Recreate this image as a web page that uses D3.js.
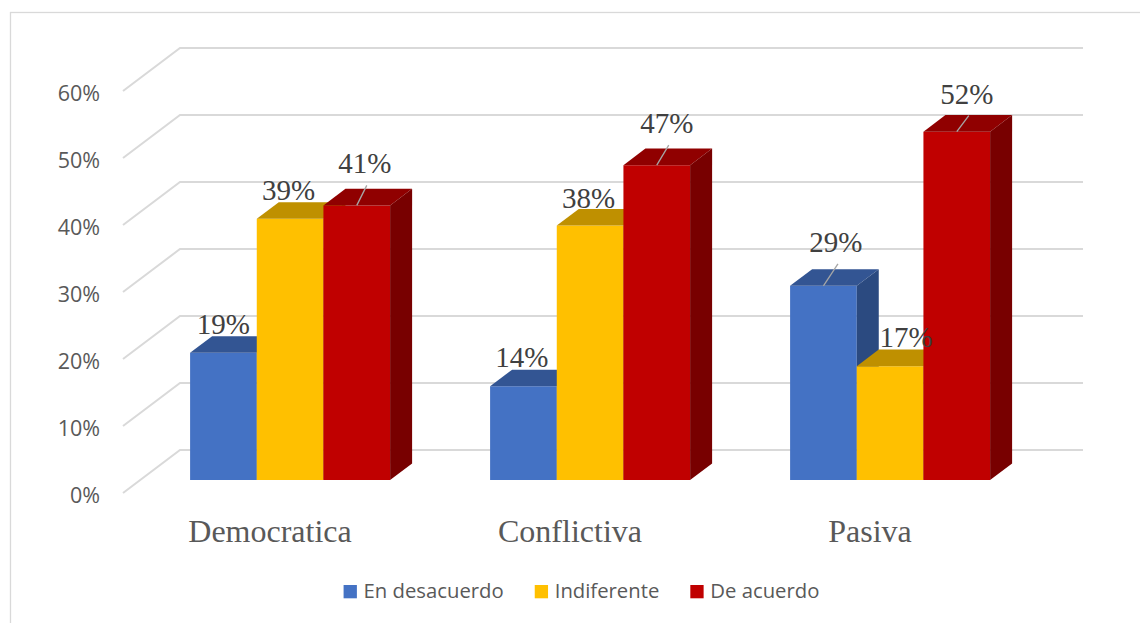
<!DOCTYPE html>
<html>
<head>
<meta charset="utf-8">
<script src="https://cdn.jsdelivr.net/npm/d3@7"></script>
<style>
  body { margin: 0; background: #fff; }
  svg { display: block; }
</style>
</head>
<body>
<script>
// data
const categories = ["Democratica", "Conflictiva", "Pasiva"];
const seriesNames = ["En desacuerdo", "Indiferente", "De acuerdo"];
const enDesacuerdo = [0.19, 0.14, 0.29];
const indiferente = [0.39, 0.38, 0.17];
const deAcuerdo = [0.41, 0.47, 0.52];
const yTicks = [0, 0.1, 0.2, 0.3, 0.4, 0.5, 0.6];

const seriesValues = [enDesacuerdo, indiferente, deAcuerdo];

// styles
const colors = [
    { front: "#4472C4", top: "#335593", side: "#2B4A80" },
    { front: "#FFC000", top: "#BF9000", side: "#A67C00" },
    { front: "#C00000", top: "#900000", side: "#780000" }
];

// data label nudges: [dx, rise above bar top, leader line], by [category][series]
const labelNudge = [
    [[0, 19, false], [-1.5, 19, false], [8, 32, true]],
    [[-1.5, 19, false], [-1.5, 18, false], [10, 32, true]],
    [[12.5, 34, true], [16, 19, false], [10, 28, true]]
];

const W = 1140, H = 623;
const x0 = 123, plotW = 900;
const depth = { dx: 57, dy: -43 };   // full floor depth in screen px
const d0 = 0.3, d1 = 0.686;          // bar front/back as fraction of depth

const y = d3.scaleLinear().domain([0, 0.6]).range([493, 91]);
const xCat = d3.scaleBand().domain(categories).range([x0, x0 + plotW])
    .paddingInner(1 / 3).paddingOuter(1 / 6);
const xSer = d3.scaleBand().domain(d3.range(seriesNames.length)).range([0, xCat.bandwidth()]);

function proj(px, py, d) {
    return [px + d * depth.dx, py + d * depth.dy];
}
function poly(pts) {
    return "M" + pts.map(p => p.join(",")).join("L") + "Z";
}

const svg = d3.select("body").append("svg")
    .attr("width", W)
    .attr("height", H);

svg.append("rect")
    .attr("width", W).attr("height", H)
    .attr("fill", "#fff");

// chart border
svg.append("rect")
    .attr("x", 10.5).attr("y", 12.5)
    .attr("width", W).attr("height", H)
    .attr("fill", "none")
    .attr("stroke", "#d9d9d9")
    .attr("stroke-width", 1.3);

// gridlines: side wall diagonal + back wall
const grid = svg.append("g");
yTicks.forEach(function (t) {
    const a = [x0, y(t)];
    const b = proj(x0, y(t), 1);
    const c = proj(x0 + plotW + 3, y(t), 1);
    grid.append("path")
        .attr("d", "M" + a + "L" + b + "L" + c)
        .attr("fill", "none")
        .attr("stroke", "#d9d9d9")
        .attr("stroke-width", 2);
});

// y axis labels
const yAxis = d3.axisLeft(y).tickValues(yTicks).tickFormat(d3.format(".0%"))
    .tickSize(0).tickPadding(23);
const yg = svg.append("g")
    .attr("transform", "translate(" + x0 + ",0)")
    .call(yAxis);
yg.select(".domain").remove();
yg.selectAll("text")
    .attr("dy", "0.42em")
    .style("font-family", "'Open Sans', sans-serif")
    .style("font-size", "21.5px")
    .attr("fill", "#595959");

// category labels
const xAxis = d3.axisBottom(xCat).tickSize(0).tickPadding(26);
const xg = svg.append("g")
    .attr("transform", "translate(-3," + y(0) + ")")
    .call(xAxis);
xg.select(".domain").remove();
xg.selectAll("text")
    .style("font-family", "'Liberation Serif', 'Times New Roman', serif")
    .style("font-size", "32px")
    .attr("fill", "#595959");

// bars
const bars = svg.append("g");
const labels = [];
categories.forEach(function (cat, i) {
    seriesValues.forEach(function (vals, j) {
        const v = vals[i];
        const xl = xCat(cat) + xSer(j), xr = xl + xSer.bandwidth();
        const yb = y(0), yt = y(v);
        const col = colors[j];
        bars.append("path")
            .attr("d", poly([proj(xl, yt, d0), proj(xr, yt, d0), proj(xr, yb, d0), proj(xl, yb, d0)]))
            .attr("fill", col.front);
        bars.append("path")
            .attr("d", poly([proj(xl, yt, d0), proj(xr, yt, d0), proj(xr, yt, d1), proj(xl, yt, d1)]))
            .attr("fill", col.top);
        bars.append("path")
            .attr("d", poly([proj(xr, yt, d0), proj(xr, yb, d0), proj(xr, yb, d1), proj(xr, yt, d1)]))
            .attr("fill", col.side);
        const top = proj((xl + xr) / 2, yt, d0);
        const n = labelNudge[i][j];
        labels.push({ v: v, bx: top[0], by: top[1], lx: top[0] + n[0], ly: top[1] - n[1], leader: n[2] });
    });
});

// data labels
const lg = svg.append("g");
labels.forEach(function (d) {
    if (d.leader) {
        lg.append("line")
            .attr("x1", d.bx).attr("y1", d.by)
            .attr("x2", d.lx + 2).attr("y2", d.ly + 12)
            .attr("stroke", "#a6a6a6")
            .attr("stroke-width", 1.3);
    }
    lg.append("text")
        .attr("x", d.lx).attr("y", d.ly)
        .attr("text-anchor", "middle")
        .style("font-family", "'Liberation Serif', 'Times New Roman', serif")
        .style("font-size", "29px")
        .attr("fill", "#404040")
        .text(d3.format(".0%")(d.v));
});

// legend
const legend = svg.append("g");
let lx = 0;
seriesNames.forEach(function (name, j) {
    const it = legend.append("g").attr("transform", "translate(" + lx + ",0)");
    it.append("rect")
        .attr("x", 0).attr("y", -13.3)
        .attr("width", 13.3).attr("height", 13.3)
        .attr("fill", colors[j].front);
    const t = it.append("text")
        .attr("x", 20).attr("y", 0)
        .style("font-family", "'Open Sans', sans-serif")
        .style("font-size", "20.3px")
        .attr("fill", "#595959")
        .text(name);
    const w = 20 + t.node().getComputedTextLength();
    lx += w + 31;
});
const legendW = lx - 31;
legend.attr("transform", "translate(" + (581.5 - legendW / 2) + ",598.3)");
</script>
</body>
</html>
